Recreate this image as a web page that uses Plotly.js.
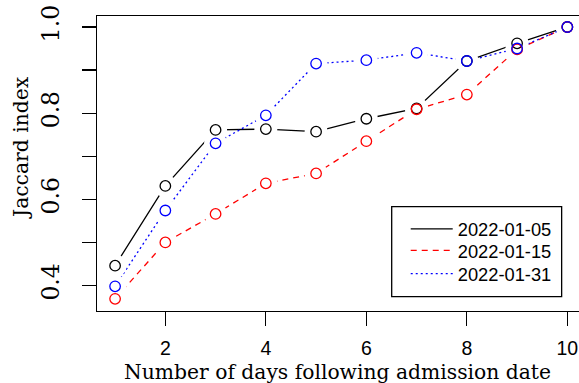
<!DOCTYPE html>
<html>
<head>
<meta charset="utf-8">
<script src="https://cdn.plot.ly/plotly-3.0.1.min.js"></script>
<style>html,body{margin:0;padding:0;background:#fff;}#chart{width:579px;height:383px;}</style>
</head>
<body>
<div id="chart"></div>
<script>
// Data
const days = [1, 2, 3, 4, 5, 6, 7, 8, 9, 10];
const seriesNames = ["2022-01-05", "2022-01-15", "2022-01-31"];
const jac0105 = [0.446, 0.631, 0.761, 0.763, 0.757, 0.787, 0.811, 0.921, 0.962, 1.000];
const jac0115 = [0.369, 0.500, 0.566, 0.637, 0.660, 0.735, 0.809, 0.843, 0.948, 1.000];
const jac0131 = [0.398, 0.574, 0.730, 0.795, 0.915, 0.923, 0.940, 0.921, 0.950, 1.000];
const xTickVals = [2, 4, 6, 8, 10];
const yTickVals = [0.4, 0.5, 0.6, 0.7, 0.8, 0.9, 1.0];
const yTickText = ["0.4", "", "0.6", "", "0.8", "", "1.0"];
const xTitle = "Number of days following admission date";
const yTitle = "Jaccard index";

const values = [jac0105, jac0115, jac0131];
const colors = ["#000000", "#FF0000", "#0000FF"];
const dashes = ["solid", "6px,5px", "2px,3px"];
const legendIds = ["legend", "legend2", "legend3"];
const legendY = [0.341, 0.2676, 0.1888];

const traces = [];
values.forEach((v, i) => traces.push({
  x: days, y: v, name: seriesNames[i], type: "scatter", mode: "lines",
  line: {color: colors[i], width: 1.3, dash: dashes[i]}, showlegend: true, legend: legendIds[i]
}));
values.forEach((v, i) => traces.push({
  x: days, y: v, type: "scatter", mode: "markers", showlegend: false, hoverinfo: "skip",
  marker: {symbol: "circle", size: 23, color: "#FFFFFF", line: {width: 0}}
}));
values.forEach((v, i) => traces.push({
  x: days, y: v, type: "scatter", mode: "markers", showlegend: false,
  marker: {symbol: "circle-open", size: 10.5, color: colors[i], line: {width: 1.3, color: colors[i]}}
}));

const legendFont = {family: "Liberation Sans, Arial, sans-serif", size: 18.3, color: "#000"};
function legendCfg(y) {
  return {x: 0.6405, y: y, xanchor: "left", yanchor: "top",
          bgcolor: "rgba(0,0,0,0)", borderwidth: 0, itemwidth: 42,
          font: legendFont, itemclick: false, itemdoubleclick: false};
}

const titleFont = {family: "DejaVu Serif, serif", size: 20.3, color: "#000"};

const layout = {
  width: 579, height: 383,
  margin: {l: 97, r: 0, t: 15.7, b: 71.7, pad: 0},
  paper_bgcolor: "#FFFFFF", plot_bgcolor: "#FFFFFF",
  showlegend: true,
  xaxis: {
    range: [0.64, 10.232], tickmode: "array", tickvals: xTickVals,
    ticks: "outside", ticklen: 14, tickwidth: 1.2, tickcolor: "#000", ticklabelstandoff: 5,
    showline: true, linecolor: "#000", linewidth: 1.3, mirror: true,
    showgrid: false, zeroline: false,
    tickfont: {family: "Liberation Sans, Arial, sans-serif", size: 19.5, color: "#000"}
  },
  yaxis: {
    range: [0.3407, 1.0255], tickmode: "array", tickvals: yTickVals, ticktext: yTickText,
    ticks: "outside", ticklen: 14, tickwidth: 1.2, tickcolor: "#000", tickangle: -90,
    ticklabelstandoff: 13,
    showline: true, linecolor: "#000", linewidth: 1.3, mirror: false,
    showgrid: false, zeroline: false,
    tickfont: {family: "DejaVu Serif, serif", size: 23.5, color: "#000"}
  },
  legend: legendCfg(legendY[0]),
  legend2: legendCfg(legendY[1]),
  legend3: legendCfg(legendY[2]),
  annotations: [
    {text: xTitle, xref: "paper", yref: "paper", x: 0.4992, y: -0.2527,
     xanchor: "center", yanchor: "bottom", showarrow: false, font: titleFont},
    {text: yTitle, xref: "paper", yref: "paper", x: -0.1577, y: 0.556, textangle: -90,
     xanchor: "center", yanchor: "middle", showarrow: false, font: titleFont}
  ],
  shapes: [{
    type: "rect", xref: "paper", yref: "paper", layer: "above",
    x0: 0.6114, x1: 0.964, y0: 0.0484, y1: 0.3539,
    line: {color: "#000", width: 1.3}, fillcolor: "rgba(255,255,255,0)"
  }]
};

Plotly.newPlot("chart", traces, layout, {staticPlot: true, displayModeBar: false});
</script>
</body>
</html>
